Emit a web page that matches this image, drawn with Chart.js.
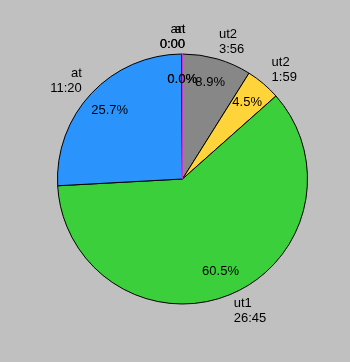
<!DOCTYPE html>
<html>
<head>
<meta charset="utf-8">
<script src="https://cdn.jsdelivr.net/npm/chart.js@4/dist/chart.umd.min.js"></script>
<style>
    body { margin: 0; background: #c0c0c0; }
    canvas { display: block; }
</style>
</head>
<body>
<canvas id="myChart" width="350" height="362"></canvas>
<script>
// slices, clockwise from 12 o'clock
const names = ['ut2', 'ut2', 'ut1', 'at', 'an', 'at'];
const times = ['3:56', '1:59', '26:45', '11:20', '0:00', '0:00'];
const percents = [8.9, 4.5, 60.5, 25.7, 0.04, 0.04];
const colors = ['#878787', '#ffd43a', '#3ccf3c', '#2a94fc', '#6633cc', '#cc33cc'];
const edgeColors = ['#000', '#000', '#000', '#000', '#000', '#cc33cc'];

// draws the percent inside each slice and the name/time outside it
const sliceLabels = {
    id: 'sliceLabels',
    afterDatasetsDraw(chart) {
        const ctx = chart.ctx;
        const meta = chart.getDatasetMeta(0);
        ctx.save();
        ctx.font = '13px "Liberation Sans", Arial, sans-serif';
        ctx.fillStyle = '#000';
        ctx.textBaseline = 'middle';
        meta.data.forEach((arc, i) => {
            const p = arc.getProps(['x', 'y', 'startAngle', 'endAngle', 'outerRadius'], true);
            const mid = (p.startAngle + p.endAngle) / 2;
            const cos = Math.cos(mid);
            const sin = Math.sin(mid);

            ctx.textAlign = 'center';
            ctx.fillText(percents[i].toFixed(1) + '%', p.x + cos * p.outerRadius * 0.8, p.y + sin * p.outerRadius * 0.8);

            const r = p.outerRadius * 1.14;
            const ax = p.x + cos * r;
            const ay = p.y + sin * r;
            let x;
            if (cos > 0) {
                ctx.textAlign = 'left';
                x = ax - 3;
            } else {
                ctx.textAlign = 'right';
                x = ax + 3;
            }
            ctx.fillText(names[i], x, ay - 7.5);
            ctx.fillText(times[i], x, ay + 7.5);
        });
        ctx.restore();
    }
};

var ctx = document.getElementById('myChart').getContext('2d');
var chart = new Chart(ctx, {
    type: 'pie',
    data: {
        labels: names,
        datasets: [{
            data: percents,
            backgroundColor: colors,
            borderColor: edgeColors,
            borderWidth: 1
        }]
    },
    options: {
        responsive: false,
        animation: false,
        layout: {
            padding: { left: 57, right: 42, top: 53, bottom: 57 }
        },
        plugins: {
            legend: { display: false },
            tooltip: { enabled: false }
        }
    },
    plugins: [sliceLabels]
});
</script>
</body>
</html>
